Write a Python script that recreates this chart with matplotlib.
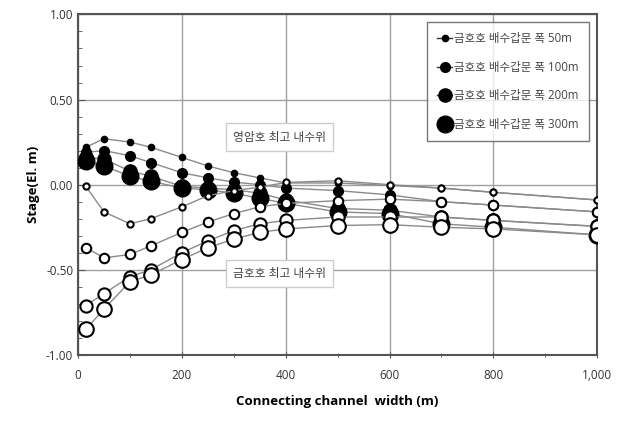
import matplotlib
matplotlib.use("Agg")
import matplotlib.pyplot as plt
from matplotlib.ticker import MultipleLocator, FuncFormatter

plt.rcParams['font.family'] = ['Open Sans', 'Noto Sans CJK KR', 'DejaVu Sans']

# channel width (m)
width = [15, 50, 100, 140, 200, 250, 300, 350, 400, 500, 600, 700, 800, 1000]

# 영암호 (filled markers)
yeongam_50 = [0.22, 0.27, 0.25, 0.22, 0.16, 0.11, 0.07, 0.04, 0.01, 0.01, -0.005, -0.02, -0.045, -0.09]
yeongam_100 = [0.19, 0.20, 0.17, 0.13, 0.07, 0.04, 0.015, 0.0, -0.02, -0.035, -0.06, -0.10, -0.12, -0.16]
yeongam_200 = [0.16, 0.15, 0.08, 0.05, -0.01, -0.02, -0.03, -0.05, -0.09, -0.14, -0.15, -0.19, -0.21, -0.245]
yeongam_300 = [0.14, 0.11, 0.05, 0.02, -0.02, -0.03, -0.05, -0.08, -0.11, -0.16, -0.17, -0.23, -0.25, -0.295]

# 금호호 (hollow markers)
geumho_50 = [-0.01, -0.16, -0.23, -0.20, -0.13, -0.065, -0.035, -0.015, 0.013, 0.023, 0.0, -0.02, -0.045, -0.09]
geumho_100 = [-0.37, -0.43, -0.41, -0.36, -0.28, -0.22, -0.17, -0.13, -0.11, -0.094, -0.085, -0.10, -0.12, -0.16]
geumho_200 = [-0.71, -0.64, -0.54, -0.50, -0.40, -0.33, -0.27, -0.23, -0.21, -0.19, -0.19, -0.19, -0.21, -0.245]
geumho_300 = [-0.85, -0.73, -0.57, -0.53, -0.44, -0.37, -0.32, -0.28, -0.26, -0.24, -0.235, -0.25, -0.26, -0.295]

labels = ["금호호 배수갑문 폭 50m", "금호호 배수갑문 폭 100m",
          "금호호 배수갑문 폭 200m", "금호호 배수갑문 폭 300m"]
msizes = [4.5, 7, 9.5, 12]
hsizes = [4.5, 6.8, 8.8, 10.5]

fig = plt.figure(figsize=(6.27, 4.25), dpi=100)
ax = fig.add_axes([0.1245, 0.165, 0.828, 0.801])

filled = [yeongam_50, yeongam_100, yeongam_200, yeongam_300]
hollow = [geumho_50, geumho_100, geumho_200, geumho_300]
line_c = '#8a8a8a'

handles = []
for ys, ms, lab in zip(filled, msizes, labels):
    h, = ax.plot(width, ys, color=line_c, lw=1.0, marker='o', ms=ms,
                 mfc='black', mec='black', label=lab, zorder=3)
    handles.append(h)
for ys, ms in zip(hollow, hsizes):
    ax.plot(width, ys, color=line_c, lw=1.0, marker='o', ms=ms,
            mfc='white', mec='black', mew=1.5, zorder=4)

ax.set_xlim(0, 1000)
ax.set_ylim(-1.0, 1.0)
ax.xaxis.set_major_locator(MultipleLocator(200))
ax.xaxis.set_minor_locator(MultipleLocator(100))
ax.yaxis.set_major_locator(MultipleLocator(0.5))
ax.yaxis.set_minor_locator(MultipleLocator(0.1))
ax.xaxis.set_major_formatter(FuncFormatter(lambda v, p: f"{int(v):,}"))
ax.yaxis.set_major_formatter(FuncFormatter(lambda v, p: f"{v:.2f}"))
ax.grid(True, which='major', color='#a0a0a0', lw=1.0)
ax.set_axisbelow(True)
for s in ax.spines.values():
    s.set_color('#555555')
    s.set_linewidth(1.5)
ax.tick_params(which='both', direction='in', color='#555555', labelsize=8.5,
               labelcolor='#333333')
ax.tick_params(axis='x', which='both', direction='inout', pad=8)
ax.tick_params(which='major', length=5)
ax.tick_params(which='minor', length=3)

ax.set_xlabel("Connecting channel  width (m)", fontsize=9.5, fontweight='bold',
              labelpad=9)
ax.set_ylabel("Stage(El. m)", fontsize=9.5, fontweight='bold', labelpad=4)

box = dict(boxstyle='square,pad=0.6', fc='white', ec='#cccccc', lw=1)
ax.text(388, 0.28, "영암호 최고 내수위", ha='center', va='center', fontsize=8.5,
        color='#444444', bbox=box, zorder=5)
ax.text(388, -0.52, "금호호 최고 내수위", ha='center', va='center', fontsize=8.5,
        color='#444444', bbox=box, zorder=5)

leg = ax.legend(handles=handles, loc='upper right', fontsize=8.3,
                labelcolor='#444444', frameon=True, fancybox=False,
                edgecolor='#555555', handlelength=1.3, handletextpad=0.15,
                labelspacing=1.35, borderpad=0.9, bbox_to_anchor=(0.995, 0.995))
leg.get_frame().set_linewidth(1.0)
for h in leg.legend_handles:
    h.set_color('#333333')
    h.set_markerfacecolor('black')
    h.set_markeredgecolor('black')

fig.savefig("out.png", dpi=100)
